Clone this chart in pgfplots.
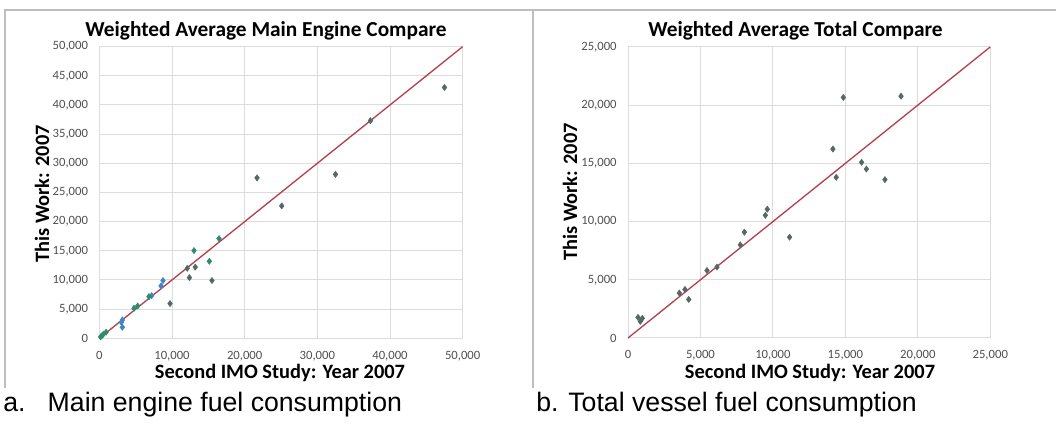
\documentclass[border=0pt]{standalone}
\usepackage{pgfplots}
\pgfplotsset{compat=1.18}
\usepackage{fontspec}
\setmainfont{Carlito}
\newfontfamily\capfont{Liberation Sans}
\definecolor{gridc}{RGB}{220,220,220}
\definecolor{tickc}{RGB}{80,80,80}
\definecolor{ptgray}{RGB}{84,104,100}
\definecolor{ptblue}{RGB}{63,134,196}
\definecolor{ptgreen}{RGB}{46,139,110}
\definecolor{linered}{RGB}{180,64,80}
\definecolor{framec}{RGB}{190,190,190}
\pgfplotstableread{
x y
37300 37300
47500 43000
32500 28100
21700 27500
25100 22700
13200 12200
12100 12000
12400 10400
15500 9900
9730 5940
}\leftgray
\pgfplotstableread{
x y
3170 3140
3030 2740
3170 1890
8760 9890
8490 8970
7200 7310
}\leftblue
\pgfplotstableread{
x y
180 230
320 400
550 690
920 1030
4770 5140
5280 5540
6830 7140
13030 15030
15140 13200
16470 17090
}\leftgreen
\pgfplotstableread{
x y
14860 20660
18840 20770
14140 16230
16120 15090
16450 14510
14370 13800
17730 13600
9610 11060
9480 10540
8030 9090
7750 8000
11150 8660
6140 6090
5450 5800
3930 4170
3540 3860
4190 3310
690 1770
990 1690
850 1430
}\rightdata
\pgfplotsset{
  excel/.style={
    scale only axis,
    axis line style={draw=none},
    major tick length=0pt,
    grid=major,
    grid style={gridc, line width=0.75pt},
    scaled ticks=false,
    ymin=0,
    /pgf/number format/.cd, fixed, 1000 sep={,}, assume math mode=true,
    /pgfplots/.cd,
    tick label style={font=\fontsize{9.5}{11}\selectfont, text=tickc},
    xticklabel style={yshift=-6pt},
    yticklabel style={xshift=-5pt},
    clip=false,
  },
  pts/.style={only marks, mark=diamond*, mark size=2.3pt, mark options={draw=#1, fill=#1}},
}
\begin{document}
\begin{tikzpicture}
\path[use as bounding box] (0,0) rectangle (792pt,321pt);
% frames
\draw[framec, line width=1.4pt] (3.75pt,30pt) -- (3.75pt,313.5pt) -- (792pt,313.5pt);
\draw[framec, line width=1.4pt] (399.75pt,30pt) -- (399.75pt,313.5pt);
% left axis
\begin{axis}[excel, at={(74.5pt,67.3pt)}, anchor=south west,
  width=272.5pt, height=218.7pt,
  xmin=0, xmax=50000, ymax=50000,
  xtick={0,10000,...,50000}, ytick={0,5000,...,50000}]
\addplot[linered, line width=1pt] coordinates {(0,0) (50000,50000)};
\addplot[pts=ptgray] table[x=x,y=y] {\leftgray};
\addplot[pts=ptblue] table[x=x,y=y] {\leftblue};
\addplot[pts=ptgreen] table[x=x,y=y] {\leftgreen};
\end{axis}
% right axis
\begin{axis}[excel, at={(471pt,67.5pt)}, anchor=south west,
  width=271.7pt, height=218.3pt,
  xmin=0, xmax=25000, ymax=25000,
  xtick={0,5000,...,25000}, ytick={0,5000,...,25000}]
\addplot[linered, line width=1pt] coordinates {(0,0) (25000,25000)};
\addplot[pts=ptgray] table[x=x,y=y] {\rightdata};
\end{axis}
% titles and labels
\node[font=\bfseries\fontsize{16}{18}\selectfont] at (199.5pt,297.75pt) {Weighted Average Main Engine Compare};
\node[font=\bfseries\fontsize{16}{18}\selectfont] at (596.6pt,297.75pt) {Weighted Average Total Compare};
\node[font=\bfseries\fontsize{15.3}{17}\selectfont, rotate=90] at (31.5pt,175.5pt) {This Work: 2007};
\node[font=\bfseries\fontsize{15.3}{17}\selectfont, rotate=90] at (427.5pt,177pt) {This Work: 2007};
\node[font=\bfseries\fontsize{15.3}{17}\selectfont, inner sep=1pt] at (210pt,41.5pt) {Second IMO Study: Year 2007};
\node[font=\bfseries\fontsize{15.3}{17}\selectfont, inner sep=1pt] at (607.5pt,41.5pt) {Second IMO Study: Year 2007};
% captions
\node[font=\capfont\fontsize{20}{22}\selectfont, anchor=west, inner sep=0pt] at (2.25pt,17.5pt) {a.\ \ \ Main engine fuel consumption};
\node[font=\capfont\fontsize{20}{22}\selectfont, anchor=west, inner sep=0pt] at (402pt,17.5pt) {b. Total vessel fuel consumption};
\end{tikzpicture}
\end{document}
